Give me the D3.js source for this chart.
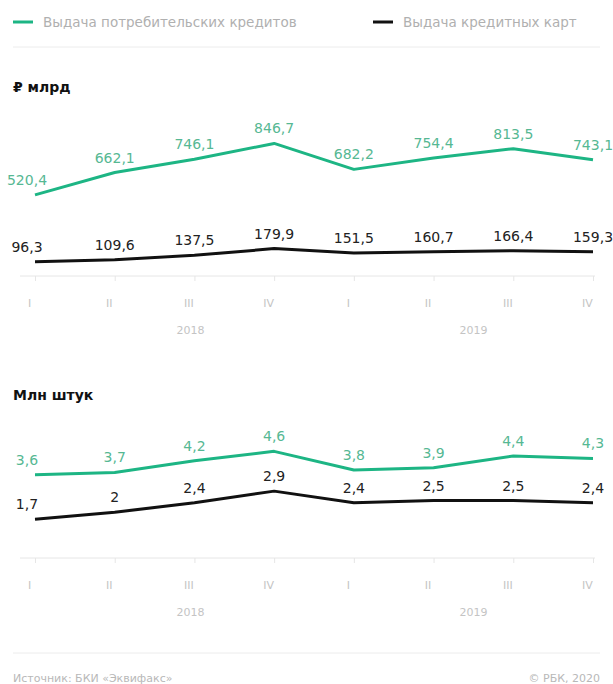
<!DOCTYPE html>
<html lang="ru">
<head>
    <meta charset="UTF-8">
    <script src="https://d3js.org/d3.v7.min.js"></script>
    <title>Кредиты</title>
    <style>
        body { margin: 0; padding: 0; background: #fff; }
        svg { display: block; font-family: "DejaVu Sans", sans-serif; }
        .axis path, .axis line { stroke: #e6e6e6; }
        .axis text { fill: #c4c4c4; font-size: 11px; }
    </style>
</head>
<body>
<script>
    // data
    var quarters = ['I', 'II', 'III', 'IV', 'I', 'II', 'III', 'IV']
    var years = ['2018', '2019']
    var yearPos = [1.95, 5.5]   // where the year labels sit, in quarter units

    var loansRub = [520.4, 662.1, 746.1, 846.7, 682.2, 754.4, 813.5, 743.1]
    var cardsRub = [96.3, 109.6, 137.5, 179.9, 151.5, 160.7, 166.4, 159.3]
    var loansCnt = [3.6, 3.7, 4.2, 4.6, 3.8, 3.9, 4.4, 4.3]
    var cardsCnt = [1.7, 2, 2.4, 2.9, 2.4, 2.5, 2.5, 2.4]

    var green = '#1db584'
    var greenText = '#56b893'

    var W = 613, H = 684
    var svg = d3.select('body').append('svg').attr('width', W).attr('height', H)

    var x = d3.scaleLinear().domain([0, 7]).range([35, 593])

    function fmt(v) { return String(v).replace('.', ',') }

    // legend
    var legend = [
        { label: 'Выдача потребительских кредитов', color: green, x: 13 },
        { label: 'Выдача кредитных карт', color: '#111', x: 373 }
    ]
    legend.forEach(function (l) {
        svg.append('line').attr('x1', l.x).attr('x2', l.x + 20)
            .attr('y1', 22).attr('y2', 22)
            .attr('stroke', l.color).attr('stroke-width', 3)
        svg.append('text').attr('x', l.x + 30).attr('y', 27)
            .attr('fill', '#b0b0b0').style('font-size', '13.5px').text(l.label)
    })
    svg.append('line').attr('x1', 13).attr('x2', 600).attr('y1', 47).attr('y2', 47)
        .attr('stroke', '#ececec')

    function drawPanel(opt) {
        var y = d3.scaleLinear().domain(opt.domain).range(opt.range)

        svg.append('text').attr('x', 13).attr('y', opt.titleY)
            .attr('fill', '#111').style('font-size', '14px').style('font-weight', 'bold')
            .text(opt.title)

        // axis
        var ax = svg.append('g').attr('class', 'axis')
            .attr('transform', 'translate(0,' + opt.axisY + ')')
            .call(d3.axisBottom(x).tickValues(d3.range(8))
                .tickFormat(function (i) { return quarters[i] })
                .tickSize(5).tickPadding(18).tickSizeOuter(0))
        ax.select('.domain').attr('d', 'M20,0H595')
        ax.selectAll('.tick text').attr('dx', -6).style('font-family', '"DejaVu Sans", sans-serif')

        svg.selectAll(null).data(years).enter().append('text')
            .attr('x', function (d, i) { return x(yearPos[i]) })
            .attr('y', opt.axisY + 58)
            .attr('text-anchor', 'middle')
            .attr('fill', '#c4c4c4').style('font-size', '11px')
            .text(function (d) { return d })

        var line = d3.line().x(function (d, i) { return x(i) }).y(function (d) { return y(d) })

        opt.series.forEach(function (s) {
            svg.append('path').datum(s.values)
                .attr('d', line)
                .attr('fill', 'none')
                .attr('stroke', s.color)
                .attr('stroke-width', 3)
                .attr('stroke-linejoin', 'round')

            svg.selectAll(null).data(s.values).enter().append('text')
                .attr('x', function (d, i) { return x(i) + (i === 0 ? -8 : 0) })
                .attr('y', function (d) { return y(d) - 10 })
                .attr('text-anchor', 'middle')
                .attr('fill', s.textColor)
                .style('font-size', '14px')
                .text(fmt)
        })
    }

    drawPanel({
        title: '₽ млрд', titleY: 92,
        domain: [0, 900], range: [277, 135],
        axisY: 276,
        series: [
            { values: loansRub, color: green, textColor: greenText },
            { values: cardsRub, color: '#111', textColor: '#222' }
        ]
    })

    drawPanel({
        title: 'Млн штук', titleY: 400,
        domain: [0, 5], range: [559, 442],
        axisY: 558,
        series: [
            { values: loansCnt, color: green, textColor: greenText },
            { values: cardsCnt, color: '#111', textColor: '#222' }
        ]
    })

    // footer
    svg.append('line').attr('x1', 13).attr('x2', 600).attr('y1', 653).attr('y2', 653)
        .attr('stroke', '#ececec')
    svg.append('text').attr('x', 13).attr('y', 682)
        .attr('fill', '#b8b8b8').style('font-size', '11px').text('Источник: БКИ «Эквифакс»')
    svg.append('text').attr('x', 600).attr('y', 682).attr('text-anchor', 'end')
        .attr('fill', '#b8b8b8').style('font-size', '11px').text('© РБК, 2020')
</script>
</body>
</html>
